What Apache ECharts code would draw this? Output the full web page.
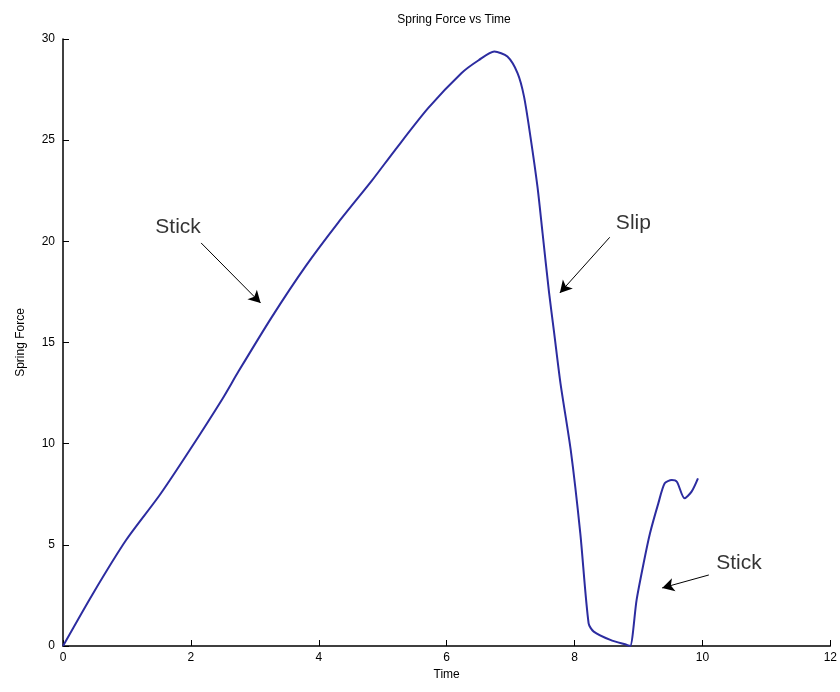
<!DOCTYPE html>
<html>
<head>
<meta charset="utf-8">
<script src="https://cdn.jsdelivr.net/npm/echarts@6/dist/echarts.min.js"></script>
<style>html,body{margin:0;padding:0;background:#fff;}#main{width:840px;height:692px;}</style>
</head>
<body>
<div id="main"></div>
<script>
var timeValues = [0, 0.47, 0.99, 1.51, 1.975, 2.49, 2.75, 3.27, 3.79, 4.31, 4.83, 5.19, 5.71, 6.23, 6.5, 6.745, 6.95, 7.11, 7.21, 7.31, 7.42, 7.50, 7.60, 7.68, 7.78, 7.94, 8.09, 8.22, 8.30, 8.56, 8.82, 8.87, 8.97, 9.08, 9.18, 9.31, 9.41, 9.52, 9.60, 9.72, 9.83, 9.93];
var forceValues = [0, 2.6, 5.25, 7.45, 9.65, 12.2, 13.6, 16.28, 18.75, 20.95, 23.0, 24.5, 26.58, 28.31, 28.95, 29.38, 29.13, 28.3, 27.15, 25.18, 22.7, 20.4, 17.5, 15.5, 12.98, 9.69, 5.57, 1.12, 0.71, 0.30, 0.05, 0.0, 2.27, 4.09, 5.57, 7.05, 8.04, 8.2, 8.12, 7.3, 7.63, 8.29];
var annotationTexts = ['Stick', 'Slip', 'Stick'];
var annotationTextPos = [[1.80, 20.7], [8.92, 20.9], [10.57, 4.1]];
var arrowStarts = [[2.16, 19.92], [8.55, 20.2], [10.10, 3.51]];
var arrowEnds = [[3.09, 16.95], [7.77, 17.45], [9.37, 2.87]];

var lineData = timeValues.map(function (t, i) { return [t, forceValues[i]]; });
var labelData = annotationTexts.map(function (s, i) { return { value: annotationTextPos[i], name: s }; });
var arrowData = arrowStarts.map(function (s, i) { return [{ coord: s }, { coord: arrowEnds[i] }]; });

var chart = echarts.init(document.getElementById('main'));
var axisFont = { color: '#000', fontSize: 12, fontFamily: 'Liberation Sans' };
chart.setOption({
  animation: false,
  backgroundColor: '#fff',
  title: {
    text: 'Spring Force vs Time', left: 449, top: 9, textAlign: 'center',
    textStyle: { fontSize: 12, fontWeight: 'normal', color: '#000', fontFamily: 'Liberation Sans' }
  },
  grid: { left: 63, right: 5, top: 39, bottom: 46 },
  xAxis: {
    type: 'value', min: 0, max: 12, interval: 2,
    name: 'Time', nameLocation: 'middle', nameGap: 22,
    nameTextStyle: axisFont,
    axisLine: { lineStyle: { color: '#000', width: 1.5 } },
    axisTick: { inside: true, length: 6, lineStyle: { color: '#000' } },
    axisLabel: Object.assign({ margin: 6 }, axisFont),
    splitLine: { show: false }
  },
  yAxis: {
    type: 'value', min: 0, max: 30, interval: 5,
    name: 'Spring Force', nameLocation: 'middle', nameGap: 36,
    nameTextStyle: axisFont,
    axisLine: { show: true, lineStyle: { color: '#000', width: 1.5 } },
    axisTick: { show: true, inside: true, length: 6, lineStyle: { color: '#000' } },
    axisLabel: Object.assign({ margin: 8 }, axisFont),
    splitLine: { show: false }
  },
  series: [
    {
      type: 'line', data: lineData, smooth: 0.25, symbol: 'none',
      lineStyle: { color: '#2c2ca0', width: 2 },
      markLine: {
        silent: true, symbol: ['none', 'arrow'], symbolSize: [10, 12],
        label: { show: false },
        lineStyle: { color: '#000', width: 1, type: 'solid' },
        data: arrowData
      }
    },
    {
      type: 'scatter', data: labelData, symbolSize: 0,
      label: {
        show: true, position: 'inside', formatter: '{b}',
        fontSize: 21, color: '#000', fontFamily: 'Liberation Sans'
      }
    }
  ]
});
</script>
</body>
</html>
